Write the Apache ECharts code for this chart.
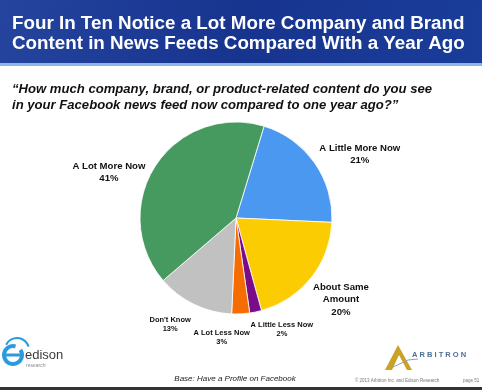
<!DOCTYPE html>
<html>
<head>
<meta charset="utf-8">
<script src="https://cdn.jsdelivr.net/npm/echarts@6/dist/echarts.min.js"></script>
<style>
html,body{margin:0;padding:0;background:#fff;}
#chart{width:482px;height:390px;}
</style>
</head>
<body>
<div id="chart"></div>
<script>
var categories = ['A Little More Now', 'About Same Amount', 'A Little Less Now', 'A Lot Less Now', "Don't Know", 'A Lot More Now'];
var labelNames = ['A Little More Now', 'About Same\nAmount', 'A Little Less Now', 'A Lot Less Now', "Don't Know", 'A Lot More Now'];
var values = [21, 20, 2, 3, 13, 41];
var colors = ['#4b98f1', '#fccc02', '#7b0c87', '#f46c02', '#c1c1c1', '#46995f'];
var titleText = 'Four In Ten Notice a Lot More Company and Brand\nContent in News Feeds Compared With a Year Ago';
var questionText = '\u201CHow much company, brand, or product-related content do you see\nin your Facebook news feed now compared to one year ago?\u201D';

var bigLabel = [true, true, false, false, false, true];
var labelShift = [[24,3],[7,9],[-17,-2],[-25,-15],[-10,2],[-25,18]];

var chart = echarts.init(document.getElementById('chart'), null, {renderer:'canvas'});
var data = categories.map(function(c, i){
  return {
    name: c,
    value: values[i],
    itemStyle: {color: colors[i]},
    label: {
      formatter: labelNames[i] + '\n' + values[i] + '%',
      fontSize: bigLabel[i] ? 9.6 : 7.5,
      lineHeight: bigLabel[i] ? 12.5 : 9.5
    }
  };
});

chart.setOption({
  animation: false,
  backgroundColor: '#ffffff',
  title: [{
    text: titleText,
    left: 7, top: 9,
    textStyle: {color:'#ffffff', fontSize: 18.8, fontWeight:'bold', fontFamily:'Liberation Sans, Arial, sans-serif', lineHeight: 20}
  },{
    text: questionText,
    left: 7, top: 77,
    textStyle: {color:'#111111', fontSize: 13.1, fontWeight:'bold', fontStyle:'italic', fontFamily:'Liberation Sans, Arial, sans-serif', lineHeight: 15.5}
  }],
  graphic: [
    {type:'rect', z:-10, shape:{x:0,y:0,width:482,height:63}, style:{fill:{type:'linear',x:0,y:0,x2:1,y2:1,colorStops:[{offset:0,color:'#24449e'},{offset:0.5,color:'#17348f'},{offset:1,color:'#1a3d9a'}]}}},
    {type:'rect', z:-9, shape:{x:0,y:63,width:482,height:3}, style:{fill:'#8ab8e6'}},
    {type:'rect', z:-9, shape:{x:0,y:387,width:482,height:3}, style:{fill:'#333333'}},
    // edison logo
    {type:'arc', shape:{cx:13, cy:355, r:9, startAngle:-0.6, endAngle:5.0}, style:{fill:'none', stroke:'#2b9be0', lineWidth:4}},
    {type:'line', shape:{x1:6, y1:355, x2:20, y2:355}, style:{stroke:'#2b9be0', lineWidth:3}},
    {type:'arc', shape:{cx:17, cy:350, r:12, startAngle:3.6, endAngle:6.0}, style:{fill:'none', stroke:'#2b9be0', lineWidth:2}},
    {type:'text', style:{x:25, y:349, text:'edison', fill:'#3a3a3a', font:'13px Liberation Sans, Arial, sans-serif'}},
    {type:'text', style:{x:26, y:363, text:'research', fill:'#888888', font:'5px Liberation Sans, Arial, sans-serif'}},
    // arbitron logo
    {type:'polygon', shape:{points:[[398,345],[385,370],[392,370],[399,355],[407,370],[412,370]]}, style:{fill:'#c9a227'}},
    {type:'polyline', shape:{points:[[391,368],[408,360],[418,359]]}, style:{stroke:'#8aa0b8', fill:'none', lineWidth:1}},
    {type:'text', style:{x:412, y:351, text:'A R B I T R O N', fill:'#4d6e91', font:'bold 7.5px Liberation Sans, Arial, sans-serif'}},
    {type:'text', style:{x:355, y:378, text:'\u00A9 2013 Arbitron Inc. and Edison Research', fill:'#777777', font:'4.5px Liberation Sans, Arial, sans-serif'}},
    {type:'text', style:{x:463, y:378, text:'page 51', fill:'#777777', font:'4.5px Liberation Sans, Arial, sans-serif'}},
    {type:'text', style:{x:235, y:379, text:'Base: Have a Profile on Facebook', fill:'#222222', align:'center', verticalAlign:'middle', font:'italic 8px Liberation Sans, Arial, sans-serif'}}
  ],
  series: [{
    type: 'pie',
    center: [236, 218],
    radius: [0, 96],
    startAngle: 73,
    clockwise: true,
    data: data,
    itemStyle: {borderColor:'#ffffff', borderWidth:0.8},
    label: {
      show: true,
      position: 'outside',
      color: '#111111',
      fontWeight: 'bold',
      fontFamily: 'Liberation Sans, Arial, sans-serif',
      align: 'center'
    },
    labelLine: {show:false, length: 20, length2: 0},
    labelLayout: function(p){
      var s = labelShift[p.dataIndex];
      return {dx: s[0], dy: s[1], align:'center'};
    }
  }]
});
</script>
</body>
</html>
